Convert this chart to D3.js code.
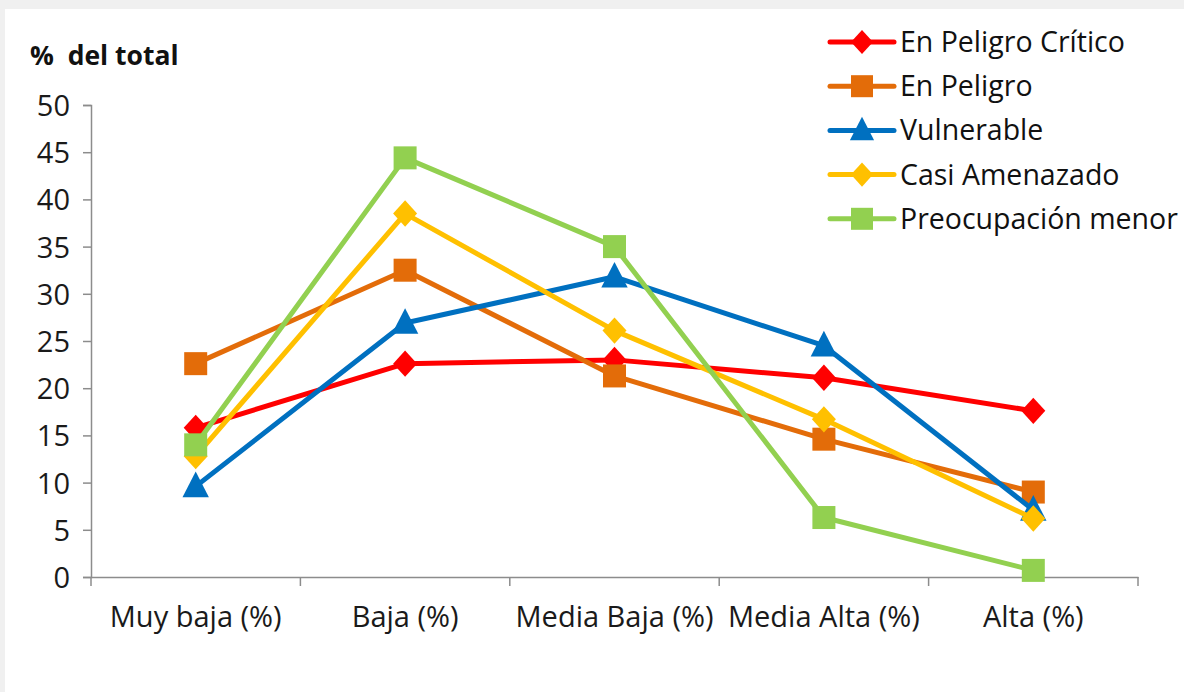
<!DOCTYPE html>
<html><head><meta charset="utf-8">
<script src="https://cdn.jsdelivr.net/npm/d3@7"></script>
<style>
html,body{margin:0;padding:0;background:#fff;}
svg{display:block;}
</style></head>
<body>
<script>
const categories = ["Muy baja (%)", "Baja (%)", "Media Baja (%)", "Media Alta (%)", "Alta (%)"];
const seriesNames = ["En Peligro Crítico", "En Peligro", "Vulnerable", "Casi Amenazado", "Preocupación menor"];
const enPeligroCritico = [15.8, 22.6, 23.0, 21.1, 17.6];
const enPeligro = [22.6, 32.5, 21.3, 14.6, 9.0];
const vulnerable = [9.6, 26.9, 31.8, 24.5, 7.1];
const casiAmenazado = [12.8, 38.5, 26.1, 16.7, 6.2];
const preocupacionMenor = [14.0, 44.4, 35.0, 6.3, 0.7];
const yTicks = [0, 5, 10, 15, 20, 25, 30, 35, 40, 45, 50];
const colors = ["#FF0000", "#E36C09", "#0070C0", "#FFC000", "#92D050"];
const markers = ["diamond", "square", "triangle", "diamond", "square"];
const seriesValues = [enPeligroCritico, enPeligro, vulnerable, casiAmenazado, preocupacionMenor];

const W = 1184, H = 692;
const FONT = "'Open Sans', 'Noto Sans', sans-serif";
const svg = d3.select("body").append("svg").attr("width", W).attr("height", H);

// frame shading
svg.append("rect").attr("x",0).attr("y",0).attr("width",W).attr("height",H).attr("fill","#fff");
svg.append("rect").attr("x",0).attr("y",0).attr("width",W).attr("height",9).attr("fill","#f0f0f0");
svg.append("rect").attr("x",0).attr("y",0).attr("width",5).attr("height",H).attr("fill","#f0f0f0");

const plot = {left: 91, right: 1138, top: 105, bottom: 577};
const x = d3.scaleBand().domain(categories).range([plot.left, plot.right]);
const y = d3.scaleLinear().domain([0, 50]).range([plot.bottom, plot.top]);

const axisColor = "#8c8c8c";

// y axis
const yAxis = svg.append("g").attr("transform", `translate(${plot.left},0)`)
  .call(d3.axisLeft(y).tickValues(yTicks).tickSize(8).tickPadding(13).tickFormat(d3.format("d")));
yAxis.select(".domain").attr("stroke", axisColor).attr("stroke-width", 1.5);
yAxis.selectAll(".tick line").attr("stroke", axisColor).attr("stroke-width", 1.5);
yAxis.selectAll(".tick text").attr("font-family", FONT).attr("font-size", 29).attr("fill", "#1a1a1a").attr("dy","0.36em");

// x axis
const xAxis = svg.append("g").attr("transform", `translate(0,${plot.bottom})`)
  .call(d3.axisBottom(x).tickSize(0).tickPadding(29));
xAxis.select(".domain").attr("stroke", axisColor).attr("stroke-width", 1.5);
xAxis.selectAll(".tick text").attr("font-family", FONT).attr("font-size", 29).attr("fill", "#1a1a1a");
// boundary ticks
const bounds = categories.map(c => x(c)).concat([x(categories[categories.length-1]) + x.bandwidth()]);
xAxis.selectAll(".btick").data(bounds).enter().append("line")
  .attr("x1", d => d).attr("x2", d => d).attr("y1", 0).attr("y2", 9)
  .attr("stroke", axisColor).attr("stroke-width", 1.5);

// title
svg.append("text").attr("x", 30).attr("y", 65).text("%  del total")
  .attr("font-family", FONT).attr("font-weight", "bold").attr("font-size", 26.5).attr("fill", "#111")
  .style("white-space","pre");

const cx = c => x(c) + x.bandwidth() / 2;
const line = d3.line().x(d => cx(d.c)).y(d => y(d.v));

function drawMarker(g, type, px, py, color, s) {
  if (type === "diamond") {
    g.append("path").attr("d", `M${px},${py-s*0.55}L${px+s*0.5},${py}L${px},${py+s*0.55}L${px-s*0.5},${py}Z`).attr("fill", color);
  } else if (type === "square") {
    g.append("rect").attr("x", px - s/2).attr("y", py - s/2).attr("width", s).attr("height", s).attr("fill", color);
  } else {
    g.append("path").attr("d", `M${px},${py-s*0.62}L${px+s*0.55},${py+s*0.45}L${px-s*0.55},${py+s*0.45}Z`).attr("fill", color);
  }
}

seriesValues.forEach((vals, i) => {
  const data = vals.map((v, j) => ({c: categories[j], v}));
  const g = svg.append("g");
  g.append("path").datum(data).attr("d", line).attr("fill", "none")
    .attr("stroke", colors[i]).attr("stroke-width", 5).attr("stroke-linejoin", "round");
  data.forEach(d => drawMarker(g, markers[i], cx(d.c), y(d.v), colors[i], markers[i]==="square" ? 23 : 24));
});

// legend
const leg = svg.append("g");
seriesNames.forEach((n, i) => {
  const ly = 42 + i * 44.2;
  leg.append("line").attr("x1", 830).attr("x2", 894).attr("y1", ly).attr("y2", ly)
    .attr("stroke", colors[i]).attr("stroke-width", 5).attr("stroke-linecap", "round");
  drawMarker(leg, markers[i], 862, ly, colors[i], 22);
  leg.append("text").attr("x", 900).attr("y", ly).attr("dy", "0.35em").text(n)
    .attr("font-family", FONT).attr("font-size", 28.5).attr("fill", "#111");
});
</script>
</body></html>
